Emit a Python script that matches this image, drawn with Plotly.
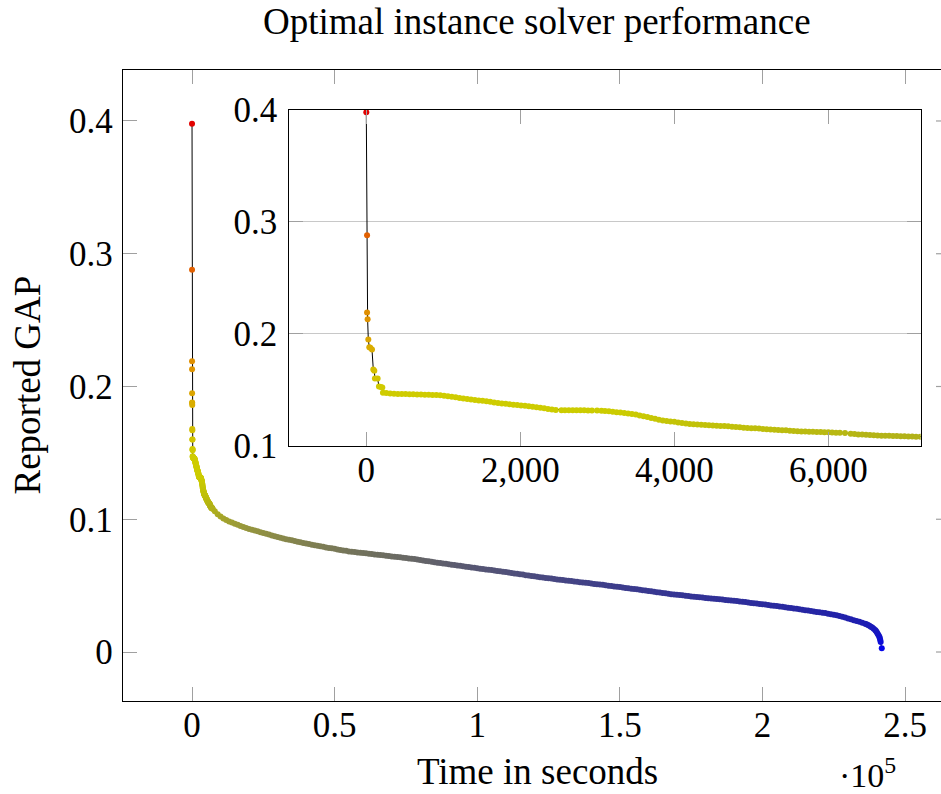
import plotly.graph_objects as go

# ---------------- data ----------------
# first few incumbent reports near t = 0
early_t = [0, 10, 10, 17, 26, 39, 52, 74, 91, 104, 112, 147, 164, 190, 208]
early_gap = [0.398, 0.288, 0.219, 0.213, 0.195, 0.188, 0.1875, 0.186, 0.168, 0.167,
             0.160, 0.160, 0.153, 0.1525, 0.152]

band1_t = [216, 260, 310, 360, 410, 460, 510, 560, 610, 660, 710, 760, 810, 860, 910,
           960, 1010, 1060, 1110, 1160, 1210, 1260, 1310, 1360, 1410, 1460, 1510, 1560,
           1610, 1660, 1710, 1760, 1810, 1860, 1910, 1960, 2010, 2060, 2110, 2160, 2210,
           2260, 2310, 2360, 2410, 2460]
band1_gap = [0.1474, 0.1470, 0.1467, 0.1465, 0.1463, 0.1462, 0.1461, 0.1460, 0.1459, 0.1458,
             0.1457, 0.1456, 0.1455, 0.1454, 0.1453, 0.1450, 0.1446, 0.1442, 0.1437, 0.1432,
             0.1427, 0.1422, 0.1418, 0.1413, 0.1409, 0.1405, 0.1401, 0.1397, 0.1392, 0.1387,
             0.1382, 0.1378, 0.1374, 0.1370, 0.1367, 0.1363, 0.1360, 0.1356, 0.1352, 0.1348,
             0.1344, 0.1340, 0.1334, 0.1329, 0.1324, 0.1320]

band2_t = [2534, 2580, 2630, 2680, 2730, 2780, 2830, 2880, 2930, 2997]
band2_gap = [0.1317, 0.1317, 0.1316, 0.1316, 0.1316, 0.1316, 0.1316, 0.1315, 0.1315, 0.1315]

band3_t = [3054, 3100, 3150, 3200, 3250, 3300, 3350, 3400, 3450, 3500, 3550, 3600, 3650,
           3700, 3750, 3800, 3850, 3900, 3950, 4000, 4050, 4100, 4150, 4200, 4250, 4300,
           4350, 4400, 4450, 4500, 4550, 4600, 4650, 4700, 4750, 4800, 4850, 4900, 4950,
           5000, 5050, 5100, 5150, 5200, 5250, 5300, 5350, 5400, 5450, 5500, 5550, 5600,
           5650, 5700, 5750, 5800, 5850, 5900, 5950, 6000, 6050, 6100, 6150, 6217]
band3_gap = [0.1313, 0.1310, 0.1307, 0.1304, 0.1300, 0.1296, 0.1292, 0.1288, 0.1283, 0.1278,
             0.1271, 0.1264, 0.1256, 0.1248, 0.1240, 0.1233, 0.1226, 0.1220, 0.1216, 0.1213,
             0.1208, 0.1203, 0.1199, 0.1195, 0.1191, 0.1189, 0.1187, 0.1185, 0.1183, 0.1181,
             0.1179, 0.1177, 0.1175, 0.1173, 0.1170, 0.1167, 0.1164, 0.1161, 0.1159, 0.1157,
             0.1155, 0.1153, 0.1150, 0.1148, 0.1145, 0.1143, 0.1141, 0.1139, 0.1137, 0.1134,
             0.1132, 0.1130, 0.1128, 0.1127, 0.1125, 0.1124, 0.1123, 0.1122, 0.1121, 0.1120,
             0.1118, 0.1116, 0.1115, 0.1113]

band4_t = [6291, 6340, 6390, 6440, 6490, 6540, 6590, 6640, 6690, 6740, 6790, 6840, 6890,
           6940, 6990, 7040, 7090, 7140, 7196]
band4_gap = [0.1107, 0.1104, 0.1101, 0.1099, 0.1097, 0.1095, 0.1093, 0.1092, 0.1090, 0.1089,
             0.1088, 0.1087, 0.1086, 0.1085, 0.1084, 0.1083, 0.1082, 0.1081, 0.1080]

# long tail, read every 1000 s from 8000 s to 236000 s
tail_t = list(range(8000, 237000, 1000))
tail_gap = [
    0.1060, 0.1038,
    0.1020, 0.1006, 0.0994, 0.0984, 0.0975, 0.0966, 0.0958, 0.0950, 0.0942, 0.0934,
    0.0927, 0.0921, 0.0915, 0.0909, 0.0903, 0.0897, 0.0891, 0.0885, 0.0878, 0.0872,
    0.0866, 0.0860, 0.0855, 0.0850, 0.0845, 0.0841, 0.0836, 0.0831, 0.0827, 0.0822,
    0.0818, 0.0813, 0.0808, 0.0804, 0.0800, 0.0796, 0.0792, 0.0788, 0.0784, 0.0781,
    0.0777, 0.0773, 0.0769, 0.0765, 0.0762, 0.0758, 0.0755, 0.0753, 0.0750, 0.0748,
    0.0745, 0.0743, 0.0740, 0.0738, 0.0735, 0.0733, 0.0730, 0.0728, 0.0725, 0.0723,
    0.0720, 0.0718, 0.0715, 0.0713, 0.0710, 0.0708, 0.0705, 0.0703, 0.0700, 0.0696,
    0.0693, 0.0689, 0.0686, 0.0683, 0.0680, 0.0676, 0.0673, 0.0670, 0.0667, 0.0664,
    0.0661, 0.0658, 0.0655, 0.0652, 0.0649, 0.0646, 0.0643, 0.0640, 0.0637, 0.0634,
    0.0631, 0.0628, 0.0625, 0.0622, 0.0619, 0.0617, 0.0614, 0.0611, 0.0608, 0.0605,
    0.0602, 0.0599, 0.0596, 0.0592, 0.0589, 0.0586, 0.0583, 0.0579, 0.0576, 0.0573,
    0.0570, 0.0566, 0.0563, 0.0561, 0.0558, 0.0555, 0.0553, 0.0550, 0.0547, 0.0545,
    0.0542, 0.0539, 0.0536, 0.0534, 0.0531, 0.0529, 0.0526, 0.0524, 0.0521, 0.0519,
    0.0516, 0.0513, 0.0511, 0.0508, 0.0506, 0.0503, 0.0500, 0.0497, 0.0494, 0.0491,
    0.0489, 0.0486, 0.0483, 0.0480, 0.0477, 0.0475, 0.0472, 0.0469, 0.0466, 0.0463,
    0.0460, 0.0457, 0.0454, 0.0451, 0.0448, 0.0445, 0.0442, 0.0439, 0.0436, 0.0434,
    0.0431, 0.0429, 0.0427, 0.0424, 0.0422, 0.0419, 0.0417, 0.0415, 0.0412, 0.0410,
    0.0407, 0.0405, 0.0403, 0.0401, 0.0399, 0.0397, 0.0395, 0.0392, 0.0390, 0.0388,
    0.0386, 0.0384, 0.0381, 0.0379, 0.0376, 0.0373, 0.0370, 0.0368, 0.0365, 0.0362,
    0.0359, 0.0357, 0.0354, 0.0351, 0.0348, 0.0346, 0.0343, 0.0340, 0.0337, 0.0334,
    0.0331, 0.0328, 0.0325, 0.0322, 0.0319, 0.0315, 0.0312, 0.0309, 0.0306, 0.0302,
    0.0299, 0.0296, 0.0293, 0.0289, 0.0285, 0.0280, 0.0276, 0.0271, 0.0266, 0.0260,
    0.0253, 0.0247, 0.0240, 0.0234, 0.0228, 0.0221, 0.0213,
]

end_t = [236500, 237000, 237500, 238000, 238500, 239000, 239500, 239800, 240100, 240400,
         240700, 241000, 241150, 241300, 241450, 241830]
end_gap = [0.0209, 0.0204, 0.0198, 0.0191, 0.0184, 0.0175, 0.0166, 0.0158, 0.0148, 0.0138,
           0.0127, 0.0115, 0.0103, 0.0090, 0.0075, 0.0028]

segments = [(early_t, early_gap), (band1_t, band1_gap), (band2_t, band2_gap),
            (band3_t, band3_gap), (band4_t, band4_gap), (tail_t, tail_gap), (end_t, end_gap)]
time_s, gap = [], []
for ts, gs in segments:
    assert len(ts) == len(gs), (len(ts), len(gs))
    time_s += ts
    gap += gs

# tick labels
main_xticks = [0, 50000, 100000, 150000, 200000, 250000]
main_xticktext = ["0", "0.5", "1", "1.5", "2", "2.5"]
main_yticks = [0, 0.1, 0.2, 0.3, 0.4]
main_yticktext = ["0", "0.1", "0.2", "0.3", "0.4"]
inset_xticks = [0, 2000, 4000, 6000]
inset_xticktext = ["0", "2,000", "4,000", "6,000"]
inset_yticks = [0.1, 0.2, 0.3, 0.4]
inset_yticktext = ["0.1", "0.2", "0.3", "0.4"]

# colour map over the gap value (0 .. 0.4)
cmap_stops = [
    (0.000, "rgb(0,0,245)"),
    (0.012, "rgb(20,20,195)"),
    (0.025, "rgb(32,32,172)"),
    (0.035, "rgb(42,42,158)"),
    (0.050, "rgb(62,62,138)"),
    (0.064, "rgb(88,88,114)"),
    (0.077, "rgb(120,120,88)"),
    (0.093, "rgb(150,150,62)"),
    (0.105, "rgb(172,172,30)"),
    (0.115, "rgb(190,190,12)"),
    (0.130, "rgb(204,204,0)"),
    (0.150, "rgb(208,204,0)"),
    (0.170, "rgb(212,188,0)"),
    (0.195, "rgb(220,165,0)"),
    (0.220, "rgb(224,142,0)"),
    (0.290, "rgb(226,95,0)"),
    (0.400, "rgb(226,0,0)"),
]
CMIN, CMAX = 0.0, 0.4
colorscale = [[(v - CMIN) / (CMAX - CMIN), c] for v, c in cmap_stops]

# ---------------- figure ----------------
FONT = "Liberation Serif"
TICKC = "#a0a0a0"
W, H = 941, 794
L, R, T, B = 123, 0, 70, 93
PW, PH = W - L - R, H - T - B


def px_x(p):
    return (p - L) / PW


def px_y(p):
    return (H - B - p) / PH


fig = go.Figure()
for xa, ya in (("x", "y"), ("x2", "y2")):
    fig.add_trace(go.Scatter(
        x=time_s, y=gap, mode="lines+markers",
        line=dict(color="black", width=1),
        marker=dict(size=6, color=gap, colorscale=colorscale, cmin=CMIN, cmax=CMAX,
                    line=dict(width=0)),
        xaxis=xa, yaxis=ya, showlegend=False, hoverinfo="skip",
    ))

axis_common = dict(ticks="inside", ticklen=14, tickwidth=1.2, tickcolor=TICKC,
                   showline=True, linecolor="black", linewidth=1.3, zeroline=False,
                   tickfont=dict(family=FONT, size=35, color="black"))

fig.update_layout(
    width=W, height=H,
    margin=dict(l=L, r=R, t=T, b=B, pad=0),
    paper_bgcolor="white", plot_bgcolor="white",
    xaxis=dict(domain=[0, 1], range=[-24200, 262600], tickvals=main_xticks,
               ticktext=main_xticktext, mirror="ticks", showgrid=False, anchor="y",
               ticklabelstandoff=-7, **axis_common),
    yaxis=dict(domain=[0, 1], range=[-0.0369, 0.4384], tickvals=main_yticks,
               ticktext=main_yticktext, mirror=False, showgrid=False, anchor="x",
               ticklabelstandoff=2, **axis_common),
    xaxis2=dict(domain=[px_x(289.3), px_x(920.7)], range=[-1000, 7200],
                tickvals=inset_xticks, ticktext=inset_xticktext, mirror="ticks",
                showgrid=False, anchor="y2", ticklabelstandoff=-7, **axis_common),
    yaxis2=dict(domain=[px_y(445.7), px_y(110)], range=[0.1, 0.4],
                tickvals=inset_yticks, ticktext=inset_yticktext, mirror="ticks",
                showgrid=True, gridcolor="#c8c8c8", gridwidth=1, anchor="x2",
                ticklabelstandoff=4, **axis_common),
)

# right-hand tick stubs of the main axes (its right border lies just outside the picture)
for v in main_yticks:
    fig.add_shape(type="line", xref="paper", yref="y", x0=px_x(936), x1=1.0, y0=v, y1=v,
                  line=dict(color=TICKC, width=1.2))

ann_font = dict(family=FONT, size=37, color="black")
fig.add_annotation(text="Optimal instance solver performance", xref="paper", yref="paper",
                   x=px_x(537), y=px_y(22), xanchor="center", yanchor="middle",
                   showarrow=False, font=ann_font)
fig.add_annotation(text="Time in seconds", xref="paper", yref="paper",
                   x=px_x(537), y=px_y(771), xanchor="center", yanchor="middle",
                   showarrow=False, font=ann_font)
fig.add_annotation(text="Reported GAP", xref="paper", yref="paper", textangle=-90,
                   x=px_x(27), y=0.5, xanchor="center", yanchor="middle",
                   showarrow=False, font=ann_font)
fig.add_annotation(text="·10<sup>5</sup>", xref="paper", yref="paper",
                   x=px_x(867), y=px_y(773), xanchor="center", yanchor="middle",
                   showarrow=False, font=dict(family=FONT, size=34, color="black"))

fig.write_html("out.html")
